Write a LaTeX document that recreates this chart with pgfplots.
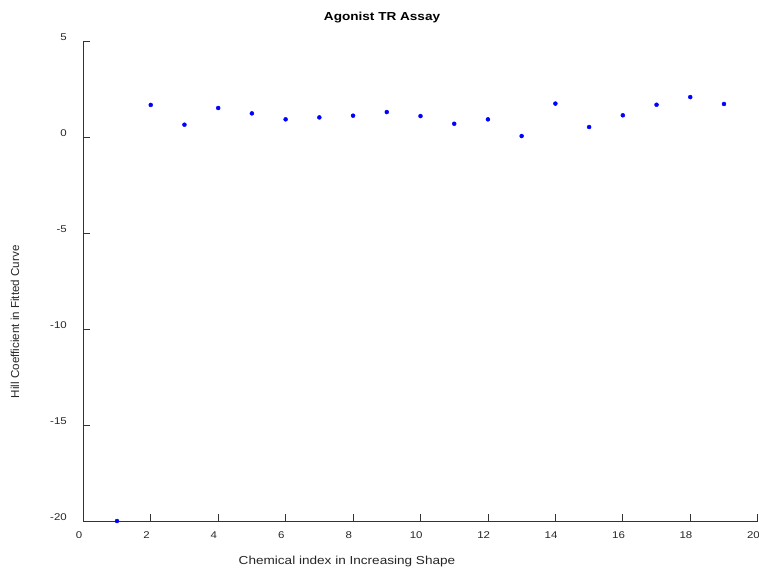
\documentclass[border=0pt]{standalone}
\usepackage{fontspec}
\setmainfont[FakeStretch=1.17]{Liberation Sans}
\newfontfamily\ylfont{Liberation Sans}
\usepackage{pgfplots}
\pgfplotsset{compat=1.18}
\begin{document}
\begin{tikzpicture}
\begin{axis}[name=ax, scale only axis, width=674.4bp, height=480bp,
  xmin=0, xmax=20, ymin=-20, ymax=5,
  axis x line*=bottom, axis y line*=left,
  axis line style={draw=black!80, line width=0.8bp},
  xtick={0,2,...,20}, ytick={-20,-15,...,5},
  tick align=inside, major tick length=6.7bp,
  tick style={draw=black!80, line width=0.8bp},
  minor tick num=0,
  clip=false,
  /pgf/number format/assume math mode=true,
  every axis title shift=0pt,
  xticklabel style={anchor=center, yshift=-14bp, xshift=-4.3bp, font=\fontsize{9.8bp}{11bp}\selectfont, text=black!85},
  yticklabel style={anchor=east, xshift=-13bp, yshift=4bp, font=\fontsize{9.8bp}{11bp}\selectfont, text=black!85},
  title={Agonist TR Assay},
  title style={at={(axis description cs:0.443,1.0479)}, anchor=center, font=\bfseries\fontsize{11.6bp}{13bp}\selectfont},
  xlabel={Chemical index in Increasing Shape},
  xlabel style={at={(axis description cs:0.391,-0.0854)}, anchor=center, font=\fontsize{11.6bp}{13bp}\selectfont, text=black!85},
  ylabel={Hill Coefficient in Fitted Curve},
  ylabel style={at={(axis description cs:-0.1013,0.415)}, anchor=center, font=\ylfont\fontsize{11.6bp}{13bp}\selectfont, text=black!85},
]
\addplot[only marks, mark=*, mark size=2bp, draw=blue, fill=blue, mark options={draw=blue, fill=blue}] coordinates {
(1,-20) (2,1.67) (3,0.64) (4,1.51) (5,1.23) (6,0.92) (7,1.02) (8,1.11) (9,1.30) (10,1.09)
(11,0.69) (12,0.92) (13,0.05) (14,1.74) (15,0.52) (16,1.13) (17,1.68) (18,2.08) (19,1.72)
};
\end{axis}
\pgfresetboundingbox
\useasboundingbox ([shift={(-83.3bp,-48bp)}]ax.south west) rectangle ([shift={(1.3bp,41bp)}]ax.north east);
\end{tikzpicture}
\end{document}
